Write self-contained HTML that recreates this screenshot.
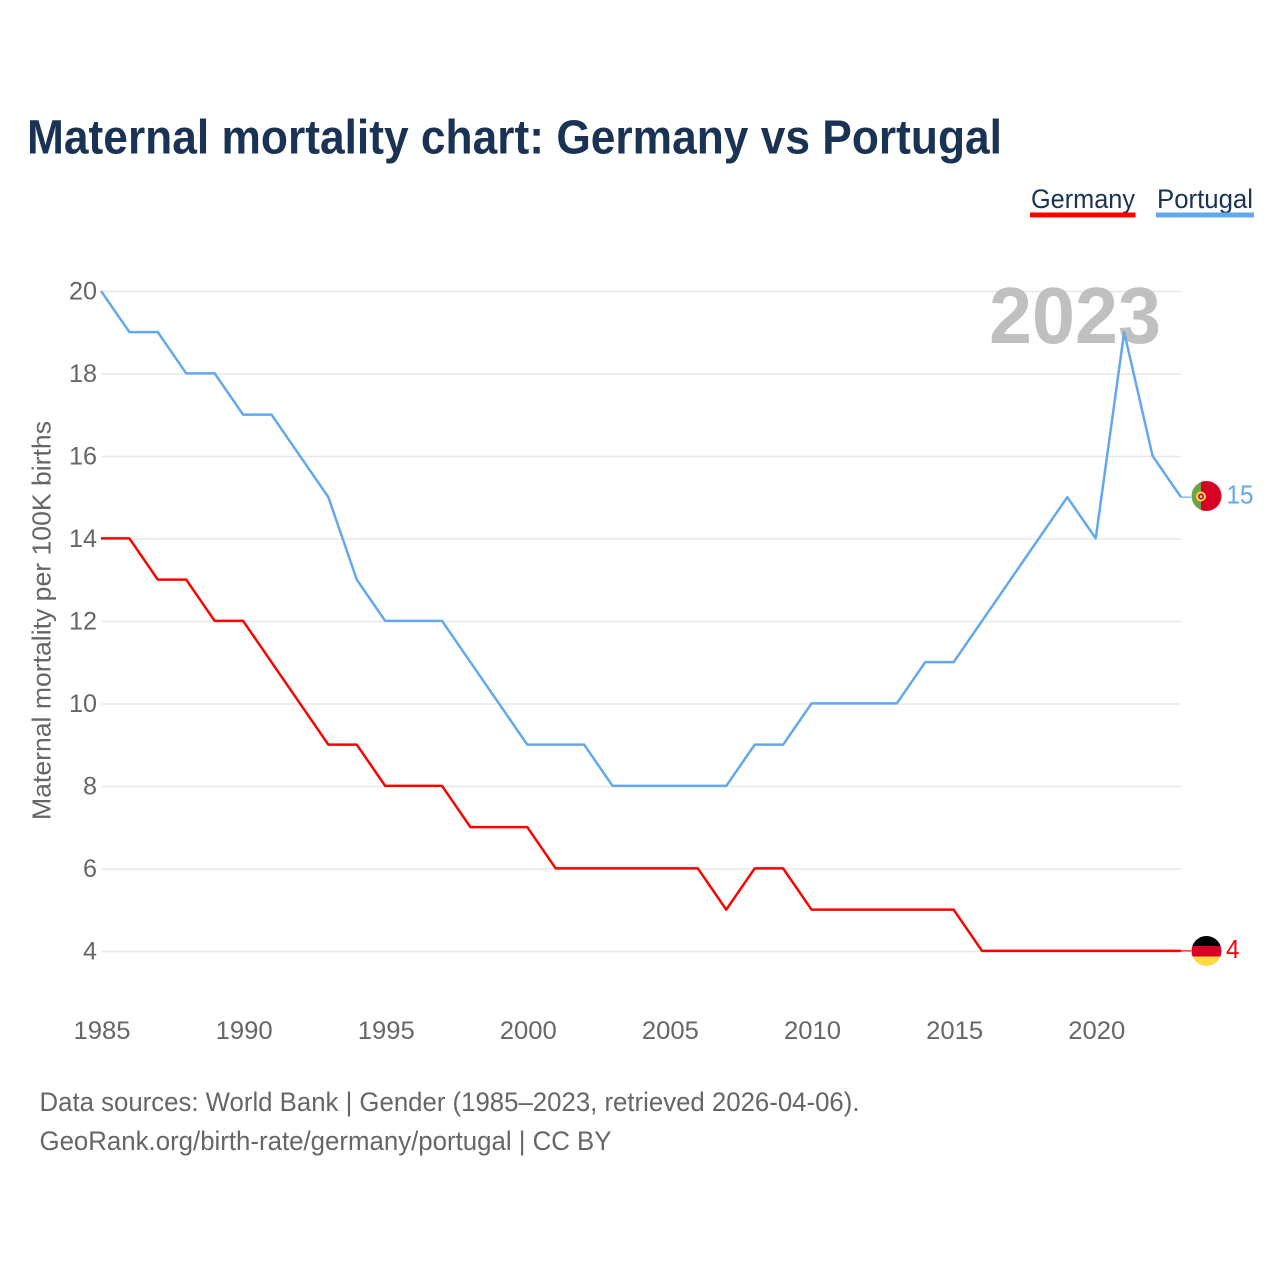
<!DOCTYPE html>
<html>
<head>
<meta charset="utf-8">
<title>Maternal mortality chart: Germany vs Portugal</title>
<style>
html,body{margin:0;padding:0;background:#fff;width:1280px;height:1280px;overflow:hidden}
svg{display:block}
text{font-family:"Liberation Sans",sans-serif}
</style>
</head>
<body>
<svg id="chart" xmlns="http://www.w3.org/2000/svg" width="1280" height="1280" viewBox="0 0 1280 1280">
<defs>
<clipPath id="clip-pt"><circle cx="1206.5" cy="496" r="15"/></clipPath>
<clipPath id="clip-de"><circle cx="1206.5" cy="951" r="15"/></clipPath>
</defs>
<rect width="1280" height="1280" fill="#fff"/>
<text x="27" y="153.500" font-size="48" font-weight="700" fill="#1a3354" textLength="975" lengthAdjust="spacingAndGlyphs">Maternal mortality chart: Germany vs Portugal</text>

<g>
<text x="1031" y="208" font-size="27" fill="#1a3354" textLength="104" lengthAdjust="spacingAndGlyphs">Germany</text>
<rect x="1030" y="212.500" width="105.500" height="5" fill="#ff0000"/>
</g>
<g>
<text x="1157" y="208" font-size="27" fill="#1a3354" textLength="96" lengthAdjust="spacingAndGlyphs">Portugal</text>
<rect x="1156" y="212.500" width="98" height="5" fill="#63a8ee"/>
</g>

<g id="grid"></g>
<g id="yticks"></g>
<g id="xticks"></g>

<text transform="translate(50.500,620.500) rotate(-90)" text-anchor="middle" font-size="26" fill="#666" textLength="399" lengthAdjust="spacingAndGlyphs">Maternal mortality per 100K births</text>
<text x="989" y="343" font-size="80" font-weight="700" fill="#c0c0c0" textLength="172" lengthAdjust="spacingAndGlyphs">2023</text>

<g id="series"></g>

<g clip-path="url(#clip-pt)">
<rect x="1191" y="480" width="11" height="32" fill="#6da544"/>
<rect x="1201" y="480" width="21" height="32" fill="#d80027"/>
<circle cx="1201" cy="496.500" r="5" fill="#ffda44"/>
<circle cx="1201" cy="496.500" r="3" fill="#d80027"/>
<circle cx="1201" cy="496.500" r="1.300" fill="#f0f0f0"/>
</g>
<g clip-path="url(#clip-de)">
<rect x="1191" y="935" width="32" height="11" fill="#000"/>
<rect x="1191" y="946" width="32" height="10.500" fill="#d80027"/>
<rect x="1191" y="956.500" width="32" height="11" fill="#ffda44"/>
</g>
<text x="1226.500" y="503.500" font-size="26" fill="#63a8ee" textLength="27" lengthAdjust="spacingAndGlyphs">15</text>
<text x="1226" y="958" font-size="26" fill="#ff0000" textLength="13.500" lengthAdjust="spacingAndGlyphs">4</text>

<text x="39.500" y="1111" font-size="27" fill="#666" textLength="820" lengthAdjust="spacingAndGlyphs">Data sources: World Bank | Gender (1985–2023, retrieved 2026-04-06).</text>
<text x="39.500" y="1150" font-size="27" fill="#666" textLength="572" lengthAdjust="spacingAndGlyphs">GeoRank.org/birth-rate/germany/portugal | CC BY</text>
</svg>
<script>
const years = [1985,1986,1987,1988,1989,1990,1991,1992,1993,1994,1995,1996,1997,1998,1999,2000,2001,2002,2003,2004,2005,2006,2007,2008,2009,2010,2011,2012,2013,2014,2015,2016,2017,2018,2019,2020,2021,2022,2023];
const germany = [14,14,13,13,12,12,11,10,9,9,8,8,8,7,7,7,6,6,6,6,6,6,5,6,6,5,5,5,5,5,5,4,4,4,4,4,4,4,4];
const portugal = [20,19,19,18,18,17,17,16,15,13,12,12,12,11,10,9,9,9,8,8,8,8,8,9,9,10,10,10,10,11,11,12,13,14,15,14,19,16,15];
const yTickValues = [20,18,16,14,12,10,8,6,4];
const xTickValues = [1985,1990,1995,2000,2005,2010,2015,2020];

const NS = 'http://www.w3.org/2000/svg';
function xScale(year){ return 101.5 + (year - 1985) * (1181.5 - 101.5) / 38; }
function yScale(v){ return 951.5 - (v - 4) * (951.5 - 291.5) / 16; }
function make(tag, attrs){
  const el = document.createElementNS(NS, tag);
  for (const k in attrs) el.setAttribute(k, attrs[k]);
  return el;
}
const grid = document.getElementById('grid');
const yticks = document.getElementById('yticks');
const xticks = document.getElementById('xticks');
const series = document.getElementById('series');

yTickValues.forEach(function(v){
  const line = make('line', {x1: 101.5, x2: 1181, y1: yScale(v), y2: yScale(v), stroke: '#e8e8e8', 'stroke-width': 1.5});
  
  
  grid.appendChild(line);
  const label = make('text', {x: 97, y: yScale(v) + 8, 'text-anchor': 'end', 'font-size': 25, fill: '#666', textLength: String(v).length * 14, lengthAdjust: 'spacingAndGlyphs'});
  
  
  label.textContent = v;
  yticks.appendChild(label);
});

xTickValues.forEach(function(y){
  const label = make('text', {x: xScale(y) + 0.5, y: 1039, 'text-anchor': 'middle', 'font-size': 25, fill: '#666', textLength: 57, lengthAdjust: 'spacingAndGlyphs'});
  
  
  label.textContent = y;
  xticks.appendChild(label);
});

function drawLine(values, color, name){
  const pts = values.map(function(v, i){ return (xScale(years[i]) - 0.5).toFixed(2) + ',' + (yScale(v) - 0.6).toFixed(2); }).join(' ');
  const line = make('polyline', {points: pts, fill: 'none', stroke: color, 'stroke-width': 2.5, 'stroke-linejoin': 'round'});
  
  
  series.appendChild(line);
  const last = yScale(values[values.length - 1]) - 0.6;
  const leader = make('line', {x1: xScale(years[years.length - 1]) - 0.5, x2: 1191, y1: last, y2: last, stroke: color, 'stroke-width': 1.2});
  
  
  series.appendChild(leader);
}
drawLine(germany, '#ff0000', 'line-germany');
drawLine(portugal, '#63a8ee', 'line-portugal');
</script>
</body>
</html>
